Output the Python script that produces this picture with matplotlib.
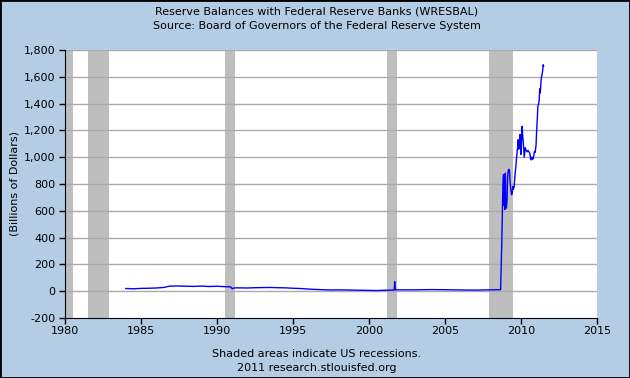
import matplotlib
matplotlib.use("Agg")
import matplotlib.pyplot as plt
from matplotlib.patches import Rectangle
from matplotlib.ticker import FuncFormatter

# reserve balances (decimal year, billions of dollars)
years = [1984.0, 1984.5, 1985.0, 1985.5, 1986.0, 1986.5, 1986.9, 1987.5, 1988.0,
         1988.5, 1989.0, 1989.5, 1990.0, 1990.5, 1990.9, 1991.0, 1991.1, 1991.3,
         1992.0, 1992.5, 1993.0, 1993.5, 1994.0, 1994.5, 1995.0, 1995.5, 1996.0,
         1996.5, 1997.0, 1997.5, 1998.0, 1999.0, 2000.0, 2000.5, 2001.0, 2001.6,
         2001.66, 2001.69, 2001.72, 2001.76, 2002.0, 2003.0, 2004.0, 2005.0, 2006.0,
         2007.0, 2008.0, 2008.5, 2008.66,
         2008.70, 2008.74, 2008.78, 2008.81, 2008.85, 2008.88, 2008.91, 2008.94,
         2008.97, 2009.00, 2009.04, 2009.08, 2009.12, 2009.16, 2009.20, 2009.24,
         2009.28, 2009.33, 2009.38, 2009.42, 2009.46, 2009.50, 2009.55, 2009.60,
         2009.66, 2009.72, 2009.78, 2009.81, 2009.85, 2009.88, 2009.94, 2009.99,
         2010.03, 2010.07, 2010.11, 2010.15, 2010.21, 2010.28, 2010.34, 2010.40,
         2010.46, 2010.52, 2010.58, 2010.63, 2010.68, 2010.72, 2010.76, 2010.80,
         2010.84, 2010.88, 2010.93, 2010.99, 2011.03, 2011.07, 2011.11, 2011.16,
         2011.20, 2011.23, 2011.27, 2011.31, 2011.35, 2011.39, 2011.43, 2011.46,
         2011.49]
values = [20, 18, 21, 22, 24, 28, 38, 39, 37,
          36, 38, 35, 37, 34, 32, 18, 24, 25,
          24, 26, 27, 28, 26, 25, 22, 20, 16,
          13, 11, 9, 10, 8, 6, 5, 7, 8,
          9, 72, 25, 10, 10, 10, 12, 11, 9,
          8, 10, 11, 12,
          200, 380, 630, 790, 870, 640, 860, 610,
          880, 630, 620, 680, 850, 900, 910, 900,
          820, 760, 720, 730, 780, 760, 780, 860,
          930, 1010, 1080, 1130, 1060, 1080, 1170, 1020,
          1100, 1230, 1160, 1120, 1000, 1070, 1050, 1040,
          1050, 1040, 1030, 990, 980, 1000, 985, 990,
          1010, 1040, 1035, 1090, 1200, 1280, 1380, 1400,
          1430, 1510, 1480, 1560, 1600, 1620, 1650, 1690,
          1680]

rec_start = [1980.0, 1981.5, 1990.5, 2001.17, 2007.92]
rec_end = [1980.55, 1982.87, 1991.2, 2001.85, 2009.45]

xticks = [1980, 1985, 1990, 1995, 2000, 2005, 2010, 2015]
yticks = [-200, 0, 200, 400, 600, 800, 1000, 1200, 1400, 1600, 1800]

bg = "#b4cde4"
plt.rcParams["font.family"] = "DejaVu Sans"
plt.rcParams["font.size"] = 8

fig = plt.figure(figsize=(6.3, 3.78), dpi=100, facecolor=bg)
ax = fig.add_axes([65/630, 1 - 318/378, 532/630, 268/378])
ax.set_facecolor("white")

for s, e in zip(rec_start, rec_end):
    ax.axvspan(s, e, color="#bebebe", lw=0, zorder=1)

for y in yticks[1:]:
    ax.axhline(y, color="#aaaaaa", lw=1, zorder=2)

ax.plot(years, values, color="#0000ff", lw=1.0, zorder=3)

ax.set_xlim(1980, 2015)
ax.set_ylim(-200, 1800)
ax.set_xticks(xticks)
ax.set_yticks(yticks)
ax.yaxis.set_major_formatter(FuncFormatter(lambda v, p: f"{int(v):,}"))
ax.tick_params(direction="out", length=4, width=1, colors="black", labelsize=8)
ax.tick_params(axis="x", pad=1.5)
ax.tick_params(axis="y", pad=3)
ax.spines["top"].set_visible(False)
ax.spines["right"].set_visible(False)
ax.set_ylabel("(Billions of Dollars)", fontsize=8, labelpad=3)

fig.text(0.503, 1 - 12/378, "Reserve Balances with Federal Reserve Banks (WRESBAL)",
         ha="center", va="center", fontsize=8)
fig.text(0.503, 1 - 26/378, "Source: Board of Governors of the Federal Reserve System",
         ha="center", va="center", fontsize=8)
fig.text(0.503, 1 - 354/378, "Shaded areas indicate US recessions.",
         ha="center", va="center", fontsize=8)
fig.text(0.503, 1 - 368/378, "2011 research.stlouisfed.org",
         ha="center", va="center", fontsize=8)

fig.patches.append(Rectangle((0, 0), 1, 1, transform=fig.transFigure,
                             fill=False, edgecolor="black", lw=2))

fig.savefig("out.png", dpi=100, facecolor=bg)
